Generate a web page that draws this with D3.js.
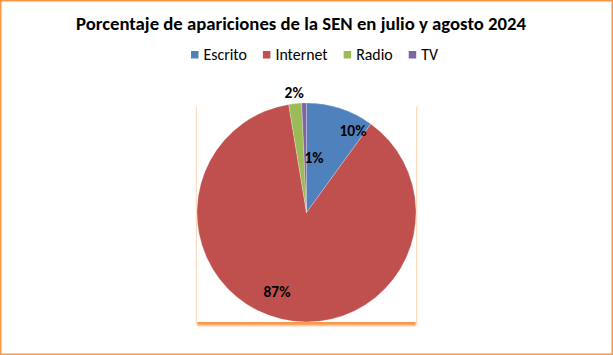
<!DOCTYPE html>
<html><head><meta charset="utf-8">
<script src="https://cdn.jsdelivr.net/npm/d3@7"></script>
<style>
html,body{margin:0;padding:0;background:#fff;}
svg{display:block;}
text{font-family:Carlito, Calibri, Lato, "Open Sans", sans-serif;}
</style></head>
<body>
<svg id="c" width="613" height="355"></svg>
<script>
// ---- data ----
const titleText = "Porcentaje de apariciones de la SEN en julio y agosto 2024";
const categories = ["Escrito", "Internet", "Radio", "TV"];
const values = [10.0, 87.4, 1.9, 0.7];
const labels = ["10%", "87%", "2%", "1%"];
const colors = ["#4F81BD", "#C0504D", "#9BBB59", "#8064A2"];

// ---- layout ----
const W = 613, H = 355;
const plot = {x: 197, y: 103, w: 219, h: 219};
const cx = plot.x + plot.w / 2, cy = plot.y + plot.h / 2, R = plot.h / 2;
// label placement (angle clockwise from top in degrees, radius fraction), Excel "best fit"
const labelPos = {Escrito: [29.7, 0.857], Internet: [200.5, 0.77], Radio: [-5.9, 1.10], TV: [7.8, 0.505]};

const svg = d3.select("#c");
const defs = svg.append("defs");
const f = defs.append("filter").attr("id", "sh").attr("x", "-10%").attr("y", "-10%").attr("width", "120%").attr("height", "120%");
f.append("feDropShadow").attr("dx", 0).attr("dy", 3.5).attr("stdDeviation", 1.3)
  .attr("flood-color", "#F79646").attr("flood-opacity", 1);

// background + outer border
svg.append("rect").attr("x", 0.75).attr("y", 0.75).attr("width", W - 1.5).attr("height", H - 1.5)
  .attr("fill", "#fff").attr("stroke", "#F79646").attr("stroke-width", 1.5);

// plot area with orange shadow
svg.append("rect").attr("x", plot.x).attr("y", plot.y).attr("width", plot.w).attr("height", plot.h)
  .attr("fill", "#fff").attr("filter", "url(#sh)");

function fit(sel, target) {
  const w = sel.node().getComputedTextLength();
  const fs = parseFloat(sel.attr("font-size"));
  sel.attr("font-size", (fs * target / w).toFixed(2));
}

// title
const t = svg.append("text").attr("x", 301).attr("y", 29.5).attr("text-anchor", "middle")
  .attr("font-size", 18).attr("font-weight", "bold").attr("fill", "#000").text(titleText);
fit(t, 450);

// legend
const lg = svg.append("g");
const legFs = 14;
let x = 0;
const items = [];
categories.forEach((c, i) => {
  const g = lg.append("g");
  g.append("rect").attr("x", x).attr("y", -8.5).attr("width", 7.5).attr("height", 7.5).attr("fill", colors[i]);
  const tx = g.append("text").attr("x", x + 12).attr("y", 0).attr("font-size", legFs).attr("fill", "#000").text(c);
  items.push(tx);
});
// scale legend font to match reference width of "Internet"
const refW = items[1].node().getComputedTextLength();
const legScale = 52.3 / refW;
x = 0;
items.forEach((tx, i) => {
  tx.attr("font-size", (legFs * legScale).toFixed(2));
  const g = d3.select(tx.node().parentNode);
  g.select("rect").attr("x", x);
  tx.attr("x", x + 12.5);
  x = x + 12.5 + tx.node().getComputedTextLength() + 16;
});
const legW = x - 16;
lg.attr("transform", `translate(${191},${59.5})`);

// pie
const pie = d3.pie().sort(null).value(d => d.v);
const arcs = pie(categories.map((c, i) => ({c, v: values[i], i})));
const arc = d3.arc().innerRadius(0).outerRadius(R);
const pg = svg.append("g").attr("transform", `translate(${cx},${cy})`);
pg.selectAll("path").data(arcs).join("path")
  .attr("d", arc).attr("fill", d => colors[d.data.i])
  .attr("stroke", "#fff").attr("stroke-width", 0.4).attr("stroke-opacity", 0.6);

// labels
const lblG = svg.append("g").attr("transform", `translate(${cx},${cy})`);
const lt = lblG.selectAll("text").data(arcs).join("text")
  .attr("text-anchor", "middle").attr("font-weight", "bold").attr("font-size", 14).attr("fill", "#000")
  .attr("dy", "0.35em")
  .text(d => labels[d.data.i]);
// fit label font size to reference width of "10%"
const w10 = lt.filter(d => d.data.i === 0).node().getComputedTextLength();
lt.attr("font-size", (14 * 27 / w10).toFixed(2));
lt.attr("x", d => { const p = labelPos[d.data.c]; return Math.sin(p[0] * Math.PI / 180) * p[1] * R; })
  .attr("y", d => { const p = labelPos[d.data.c]; return -Math.cos(p[0] * Math.PI / 180) * p[1] * R; });
</script>
</body></html>
